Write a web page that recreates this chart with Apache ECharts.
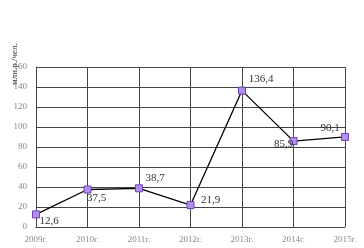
<!DOCTYPE html>
<html><head><meta charset="utf-8">
<script src="https://cdn.jsdelivr.net/npm/echarts@6/dist/echarts.min.js"></script>
<style>html,body{margin:0;padding:0;background:#fff}#c{width:364px;height:248px}</style>
</head><body><div id="c"></div>
<script>
var categories = ['2009г.', '2010г.', '2011г.', '2012г.', '2013г.', '2014г.', '2015г.'];
var values = [12.6, 37.5, 38.7, 21.9, 136.4, 85.9, 90.1];
var valueLabels = ['12,6', '37,5', '38,7', '21,9', '136,4', '85,9', '90,1'];
var labelOffsets = [[13, 7], [9, 9], [16, -10], [20, -5], [19, -11], [-10, 3], [-15, -9]];
var yAxisName = 'млн.р./чел.';

var chart = echarts.init(document.getElementById('c'), null, {renderer: 'canvas'});
var data = values.map(function (v, i) {
  return {
    value: v,
    label: {
      show: true,
      position: 'inside',
      offset: labelOffsets[i],
      formatter: valueLabels[i]
    }
  };
});
chart.setOption({
  animation: false,
  backgroundColor: '#fff',
  grid: {left: 36, right: 19, top: 67, bottom: 21},
  xAxis: {
    type: 'category',
    data: categories,
    boundaryGap: false,
    axisLine: {show: true, lineStyle: {color: '#444', width: 1}},
    axisTick: {show: false},
    splitLine: {show: true, lineStyle: {color: '#444', width: 1}},
    axisLabel: {color: '#888', fontFamily: 'Liberation Serif', fontSize: 9, margin: 8}
  },
  yAxis: {
    type: 'value',
    min: 0, max: 160, interval: 20,
    axisLine: {show: true, lineStyle: {color: '#444', width: 1}},
    axisTick: {show: false},
    splitLine: {show: true, lineStyle: {color: '#444', width: 1}},
    axisLabel: {color: '#888', fontFamily: 'Liberation Serif', fontSize: 9, margin: 9}
  },
  graphic: [{
    type: 'text',
    x: 15, y: 85,
    rotation: Math.PI / 2,
    style: {
      text: yAxisName,
      fill: '#333',
      font: '9px "Liberation Serif"',
      textAlign: 'left',
      textVerticalAlign: 'middle'
    }
  }],
  series: [{
    type: 'line',
    data: data,
    symbol: 'rect',
    symbolSize: 7,
    lineStyle: {color: '#000', width: 1.3},
    itemStyle: {color: '#b48eec', borderColor: '#6b45b5', borderWidth: 1},
    label: {color: '#333', fontFamily: 'Liberation Serif', fontSize: 11}
  }]
});
</script>
</body></html>
